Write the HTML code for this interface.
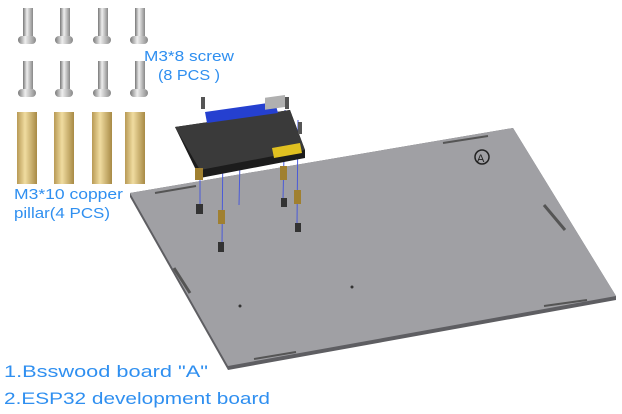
<!DOCTYPE html>
<html><head><meta charset="utf-8"><style>
body{margin:0;background:#fff;}
svg{display:block;}
.t{font-family:"Liberation Sans",sans-serif;fill:#2f8ff0;}
</style></head><body>
<svg width="622" height="414" viewBox="0 0 622 414">
<defs>
<linearGradient id="scr" x1="0" x2="1"><stop offset="0" stop-color="#777"/><stop offset="0.4" stop-color="#eee"/><stop offset="1" stop-color="#888"/></linearGradient>
<linearGradient id="brs" x1="0" x2="1"><stop offset="0" stop-color="#b89a55"/><stop offset="0.4" stop-color="#f0dca0"/><stop offset="1" stop-color="#a88a45"/></linearGradient>
</defs>
<g>
<g id="s1"><rect x="23" y="8" width="10" height="28" fill="url(#scr)"/><rect x="18" y="36" width="18" height="8" rx="4" fill="url(#scr)"/></g>
<use href="#s1" x="37"/><use href="#s1" x="75"/><use href="#s1" x="112"/>
<use href="#s1" y="53"/><use href="#s1" x="37" y="53"/><use href="#s1" x="75" y="53"/><use href="#s1" x="112" y="53"/>
</g>
<g>
<rect x="17" y="112" width="20" height="72" fill="url(#brs)"/>
<rect x="54" y="112" width="20" height="72" fill="url(#brs)"/>
<rect x="92" y="112" width="20" height="72" fill="url(#brs)"/>
<rect x="125" y="112" width="20" height="72" fill="url(#brs)"/>
</g>
<text class="t" x="144" y="61" font-size="15" textLength="90" lengthAdjust="spacingAndGlyphs">M3*8 screw</text>
<text class="t" x="158" y="80" font-size="15" textLength="62" lengthAdjust="spacingAndGlyphs">(8 PCS )</text>
<text class="t" x="14" y="199" font-size="15" textLength="109" lengthAdjust="spacingAndGlyphs">M3*10 copper</text>
<text class="t" x="14" y="218" font-size="15" textLength="96" lengthAdjust="spacingAndGlyphs">pillar(4 PCS)</text>
<g>
<polygon points="130,193 513,128 616,296 616,300 228,370 130,197" fill="#5e5e62"/>
<polygon points="130,193 513,128 616,296 228,366" fill="#a0a0a4"/>
<line x1="155" y1="193" x2="196" y2="186" stroke="#555" stroke-width="2"/>
<line x1="443" y1="143" x2="488" y2="136" stroke="#555" stroke-width="2"/>
<line x1="544" y1="205" x2="565" y2="230" stroke="#555" stroke-width="3"/>
<line x1="174" y1="268" x2="190" y2="293" stroke="#555" stroke-width="3"/>
<line x1="544" y1="306" x2="587" y2="300" stroke="#555" stroke-width="2"/>
<line x1="254" y1="359" x2="296" y2="352" stroke="#555" stroke-width="2"/>
<circle cx="482" cy="157" r="7" fill="none" stroke="#222" stroke-width="1.5"/>
<text x="477" y="162" font-family="Liberation Sans" font-size="11" fill="#222">A</text>
<circle cx="352" cy="287" r="1.5" fill="#333"/><circle cx="240" cy="306" r="1.5" fill="#333"/>
</g>
<g>
<line x1="200" y1="150" x2="200" y2="205" stroke="#4a5ad8"/>
<line x1="223" y1="140" x2="222" y2="245" stroke="#4a5ad8"/>
<line x1="240" y1="160" x2="239" y2="205" stroke="#4a5ad8"/>
<line x1="285" y1="110" x2="283" y2="200" stroke="#4a5ad8"/>
<line x1="298" y1="120" x2="297" y2="225" stroke="#4a5ad8"/>
<polygon points="175,127 290,110 305,150 305,158 200,178 195,168" fill="#1c1c1c"/>
<polygon points="175,127 290,110 305,150 200,170" fill="#3a3a3a"/>
<polygon points="205,112 275,102 278,113 207,123" fill="#2540d0"/>
<rect x="265" y="135" width="20" height="12" fill="#b0b0b0" transform="skewY(-8)"/>
<polygon points="272,148 300,143 302,153 274,158" fill="#e0c020"/>
<rect x="195" y="168" width="8" height="12" fill="#a08030"/>
<rect x="196" y="204" width="7" height="10" fill="#333"/>
<rect x="218" y="210" width="7" height="14" fill="#a08030"/>
<rect x="218" y="242" width="6" height="10" fill="#333"/>
<rect x="280" y="166" width="7" height="14" fill="#a08030"/>
<rect x="281" y="198" width="6" height="9" fill="#333"/>
<rect x="294" y="190" width="7" height="14" fill="#a08030"/>
<rect x="295" y="223" width="6" height="9" fill="#333"/>
<rect x="201" y="97" width="4" height="12" fill="#555"/><rect x="285" y="97" width="4" height="12" fill="#555"/><rect x="298" y="122" width="4" height="12" fill="#555"/>
</g>
<text class="t" x="4" y="377" font-size="17" textLength="204" lengthAdjust="spacingAndGlyphs">1.Bsswood board  "A"</text>
<text class="t" x="4" y="404" font-size="17" textLength="266" lengthAdjust="spacingAndGlyphs">2.ESP32 development board</text>
</svg>
</body></html>
